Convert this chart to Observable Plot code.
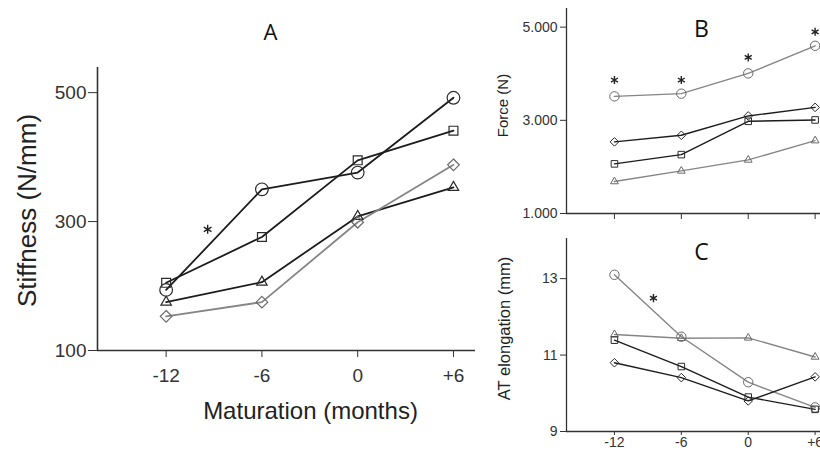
<!DOCTYPE html>
<html><head><meta charset="utf-8">
<script src="https://cdn.jsdelivr.net/npm/d3@7"></script>
<script src="https://cdn.jsdelivr.net/npm/@observablehq/plot@0.6"></script>
<style>
html,body{margin:0;padding:0;background:#fff;}
#wrap{position:relative;width:820px;height:453px;overflow:hidden;background:#fff;}
#wrap > svg{position:absolute;}
</style></head><body><div id="wrap"></div>
<script>
// ---- data ----
const months = [-12, -6, 0, 6];
const monthLabels = ["-12", "-6", "0", "+6"];

const stiffCircle   = [194, 350, 376, 492];
const stiffSquare   = [205, 276, 395, 441];
const stiffTriangle = [175, 206, 308, 353];
const stiffDiamond  = [153, 175, 299, 388];
const stiffTicks = [100, 300, 500];
const stiffTickLabels = ["100", "300", "500"];
const stiffStarX = [-9.4];
const stiffStarY = [288];

const forceCircle   = [3514, 3572, 4007, 4600];
const forceSquare   = [2065, 2264, 2979, 3008];
const forceTriangle = [1686, 1914, 2150, 2564];
const forceDiamond  = [2537, 2679, 3094, 3278];
const forceTicks = [1000, 3000, 5000];
const forceTickLabels = ["1.000", "3.000", "5.000"];
const forceStarX = [-12, -6, 0, 6];
const forceStarY = [3865, 3865, 4350, 4900];

const elongCircle   = [13.10, 11.48, 10.29, 9.63];
const elongSquare   = [11.39, 10.70, 9.90, 9.58];
const elongTriangle = [11.54, 11.44, 11.45, 10.95];
const elongDiamond  = [10.80, 10.41, 9.80, 10.43];
const elongTicks = [9, 11, 13];
const elongTickLabels = ["9", "11", "13"];
const elongStarX = [-8.5];
const elongStarY = [12.49];

// ---- styling ----
const BLACK = "#1c1c1c", GRAY = "#858585", AXIS = "#333";
const symbolOf = {circle: "circle", square: "square", triangle: "triangle2", diamond: "diamond2"};
const sizeOf = {circle: 1.27, square: 1.0, triangle: 1.0, diamond: 1.05};
const FONT = "'Liberation Sans', Arial, Helvetica, sans-serif";
const xDomain = [-16.3, 7.38];

function panel(cfg) {
  const marks = [
    Plot.ruleX([xDomain[0]], {stroke: AXIS, strokeWidth: cfg.axisWidth}),
    Plot.ruleY([cfg.yDomain[0]], {stroke: AXIS, strokeWidth: cfg.axisWidth}),
    Plot.axisY({ticks: cfg.yTicks, tickFormat: d => cfg.yTickLabels[cfg.yTicks.indexOf(d)],
      tickSize: cfg.yTickSize, tickPadding: cfg.yTickPadding, fontSize: cfg.tickFont, label: null, color: AXIS}),
    Plot.axisX({ticks: months, tickFormat: cfg.xLabels ? (d => monthLabels[months.indexOf(d)]) : (() => ""),
      tickSize: cfg.xTickSize, tickPadding: cfg.xTickPadding, fontSize: cfg.tickFont, label: null, color: AXIS})
  ];
  for (const s of cfg.series) {
    const rows = s.values.map((v, i) => ({month: months[i], value: v}));
    marks.push(Plot.line(rows, {x: "month", y: "value", stroke: s.color, strokeWidth: cfg.lineWidth}));
  }
  for (const s of cfg.series) {
    const rows = s.values.map((v, i) => ({month: months[i], value: v}));
    marks.push(Plot.dot(rows, {x: "month", y: "value", symbol: symbolOf[s.name], r: cfg.r * sizeOf[s.name],
      fill: "none", stroke: s.color === GRAY ? "#6a6a6a" : "#2a2a2a", strokeWidth: cfg.markWidth}));
  }
  const stars = cfg.starX.map((x, i) => ({x, y: cfg.starY[i]}));
  marks.push(Plot.dot(stars, {x: "x", y: "y", symbol: "asterisk", r: cfg.starR, stroke: "#222", strokeWidth: 1.4}));
  marks.push(Plot.text([cfg.yLabel], {text: d => d, frameAnchor: "left", textAnchor: "middle", lineAnchor: "middle",
    rotate: -90, dx: cfg.yLabelDx, dy: cfg.yLabelDy, fontSize: cfg.yLabelFont, fill: "#222"}));
  if (cfg.xLabel) marks.push(Plot.text([cfg.xLabel], {text: d => d, frameAnchor: "bottom", textAnchor: "middle",
    lineAnchor: "middle", dx: cfg.xLabelDx, dy: cfg.xLabelDy, fontSize: cfg.xLabelFont, fill: "#222"}));
  marks.push(Plot.text([cfg.title], {text: d => d, frameAnchor: "top", textAnchor: "middle", lineAnchor: "middle",
    dx: cfg.titleDx, dy: cfg.titleDy, fontSize: cfg.titleFont, fill: "#111",
    fontFamily: "'Open Sans', 'Liberation Sans', sans-serif"}));

  const svg = Plot.plot({
    width: cfg.width, height: cfg.height,
    marginLeft: cfg.mL, marginRight: cfg.mR, marginTop: cfg.mT, marginBottom: cfg.mB,
    x: {domain: xDomain},
    y: {domain: cfg.yDomain},
    style: {fontFamily: FONT, background: "transparent", overflow: "visible"},
    marks
  });
  svg.style.left = cfg.left + "px";
  svg.style.top = cfg.top + "px";
  document.getElementById("wrap").appendChild(svg);
}

// Panel A
panel({
  left: 0, top: 0, width: 480, height: 453, mL: 97, mR: 5, mT: 67, mB: 103,
  yDomain: [100, 539], yTicks: stiffTicks, yTickLabels: stiffTickLabels,
  yTickSize: 9, yTickPadding: 2, xTickSize: 7, xTickPadding: 11, tickFont: 19, xLabels: true,
  axisWidth: 1.6, lineWidth: 1.8, markWidth: 1.2, r: 5,
  series: [
    {name: "circle", values: stiffCircle, color: BLACK},
    {name: "square", values: stiffSquare, color: BLACK},
    {name: "triangle", values: stiffTriangle, color: BLACK},
    {name: "diamond", values: stiffDiamond, color: GRAY}
  ],
  starX: stiffStarX, starY: stiffStarY, starR: 4.2,
  yLabel: "Stiffness (N/mm)", yLabelDx: -70, yLabelDy: 1.5, yLabelFont: 26,
  xLabel: "Maturation (months)", xLabelDx: 24, xLabelDy: 61, xLabelFont: 24,
  title: "A", titleDx: -16, titleDy: -35, titleFont: 22
});

// Panel B
panel({
  left: 480, top: 0, width: 360, height: 225, mL: 86, mR: 10, mT: 8, mB: 12,
  yDomain: [1000, 5400], yTicks: forceTicks, yTickLabels: forceTickLabels,
  yTickSize: 6, yTickPadding: 3, xTickSize: 6, xTickPadding: 3, tickFont: 14, xLabels: false,
  axisWidth: 1.3, lineWidth: 1.4, markWidth: 1, r: 3.7,
  series: [
    {name: "circle", values: forceCircle, color: GRAY},
    {name: "diamond", values: forceDiamond, color: BLACK},
    {name: "square", values: forceSquare, color: BLACK},
    {name: "triangle", values: forceTriangle, color: GRAY}
  ],
  starX: forceStarX, starY: forceStarY, starR: 3.8,
  yLabel: "Force (N)", yLabelDx: -63, yLabelDy: -5.5, yLabelFont: 15,
  title: "B", titleDx: 3, titleDy: 21, titleFont: 23
});

// Panel C
panel({
  left: 480, top: 225, width: 360, height: 228, mL: 86, mR: 10, mT: 13, mB: 22,
  yDomain: [9, 14.05], yTicks: elongTicks, yTickLabels: elongTickLabels,
  yTickSize: 6, yTickPadding: 3, xTickSize: 4, xTickPadding: 2, tickFont: 14, xLabels: true,
  axisWidth: 1.3, lineWidth: 1.4, markWidth: 1, r: 3.7,
  series: [
    {name: "circle", values: elongCircle, color: GRAY},
    {name: "triangle", values: elongTriangle, color: GRAY},
    {name: "square", values: elongSquare, color: BLACK},
    {name: "diamond", values: elongDiamond, color: BLACK}
  ],
  starX: elongStarX, starY: elongStarY, starR: 3.8,
  yLabel: "AT elongation (mm)", yLabelDx: -62, yLabelDy: -6.5, yLabelFont: 16.5,
  title: "C", titleDx: 3, titleDy: 14, titleFont: 23
});
</script></body></html>
